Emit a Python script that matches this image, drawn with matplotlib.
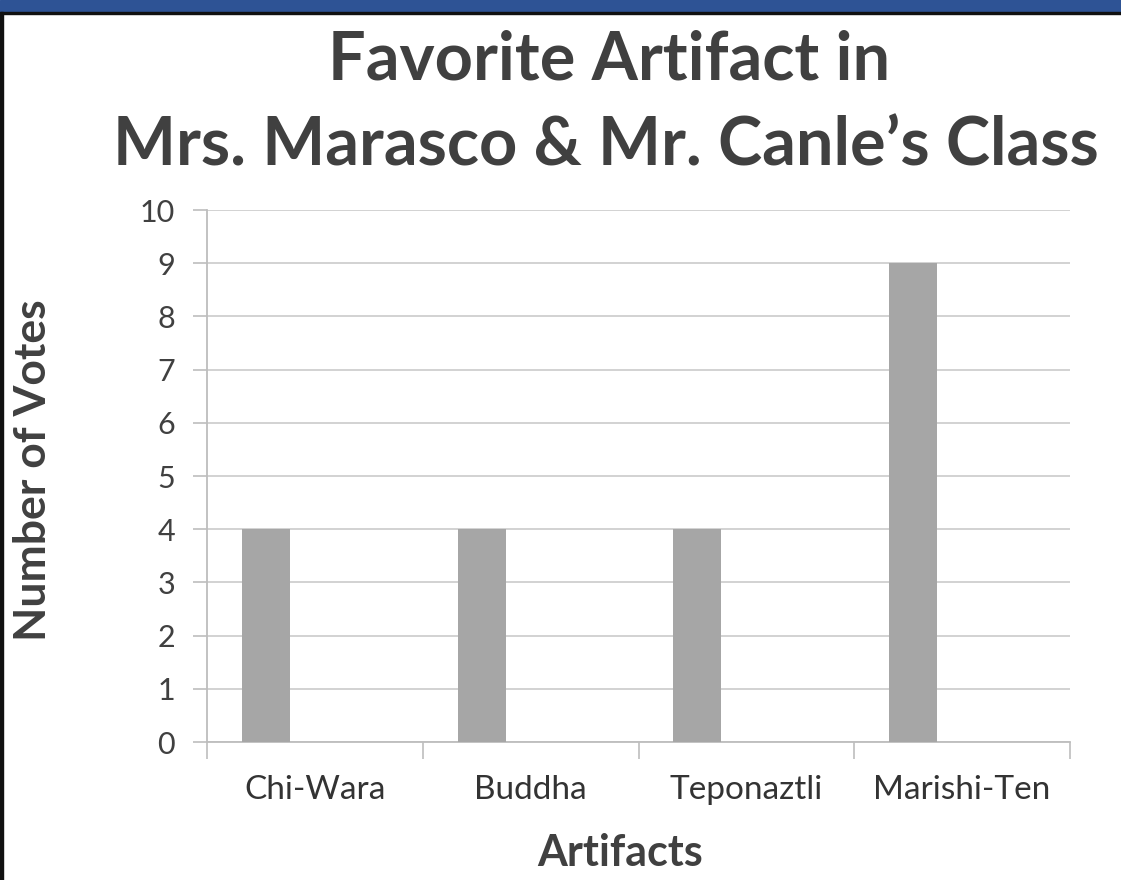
import matplotlib.pyplot as plt
import matplotlib.patches as mpatches
import numpy as np

artifacts = ["Chi-Wara", "Buddha", "Teponaztli", "Marishi-Ten"]
votes = [4, 4, 4, 9]
y_ticks = list(range(0, 11))

plt.rcParams['font.family'] = ['Lato', 'DejaVu Sans']

W, H = 1121, 880
fig = plt.figure(figsize=(W / 100, H / 100), dpi=100)
fig.patch.set_facecolor('white')

# frame of the slide: blue strip on top, thin black edges
fig.patches.append(mpatches.Rectangle((0, 1 - 12 / H), 1, 12 / H, transform=fig.transFigure,
                                      color='#2e5395', zorder=0))
fig.patches.append(mpatches.Rectangle((0, 1 - 14.5 / H), 1, 2.5 / H, transform=fig.transFigure,
                                      color='#111111', zorder=0))
fig.patches.append(mpatches.Rectangle((0, 0), 3 / W, 1 - 12 / H, transform=fig.transFigure,
                                      color='#111111', zorder=0))

ax = fig.add_axes([207 / W, 1 - 742 / H, (1070 - 207) / W, (742 - 210) / H])

x = np.arange(len(artifacts))
ax.bar(x - 0.227, votes, width=0.223, color='#a6a6a6', zorder=3)

ax.set_xlim(-0.5, len(artifacts) - 0.5)
ax.set_ylim(0, 10)
ax.set_yticks(y_ticks)
ax.set_yticklabels([str(v) for v in y_ticks])
ax.set_xticks(x)
ax.set_xticklabels(artifacts)
ax.set_xticks(np.arange(len(artifacts) + 1) - 0.5, minor=True)

ax.grid(axis='y', color='#cfcfcf', linewidth=1.3, zorder=0)
for s in ['top', 'right']:
    ax.spines[s].set_visible(False)
for s in ['left', 'bottom']:
    ax.spines[s].set_color('#bdbdbd')
    ax.spines[s].set_linewidth(1.3)

ax.tick_params(axis='y', length=10, width=1.2, color='#bdbdbd', labelsize=22,
               labelcolor='#404040', pad=13)
ax.tick_params(axis='x', which='major', length=0, labelsize=24, labelcolor='#333333', pad=24)
ax.tick_params(axis='x', which='minor', length=12, width=1.2, color='#bdbdbd')

fig.text(609 / W, 1 - 80 / H, "Favorite Artifact in", ha='center', va='baseline',
         fontsize=48, fontweight='bold', color='#404040')
fig.text(606 / W, 1 - 165 / H, "Mrs. Marasco & Mr. Canle\u2019s Class", ha='center', va='baseline',
         fontsize=48, fontweight='bold', color='#404040')

fig.text(33 / W, 1 - 470 / H, "Number of Votes", rotation=90, ha='center', va='center',
         fontsize=32, fontweight='bold', color='#404040')
fig.text(620 / W, 1 - 866 / H, "Artifacts", ha='center', va='baseline',
         fontsize=31, fontweight='bold', color='#404040')

fig.savefig('out.png', dpi=100, facecolor='white')
